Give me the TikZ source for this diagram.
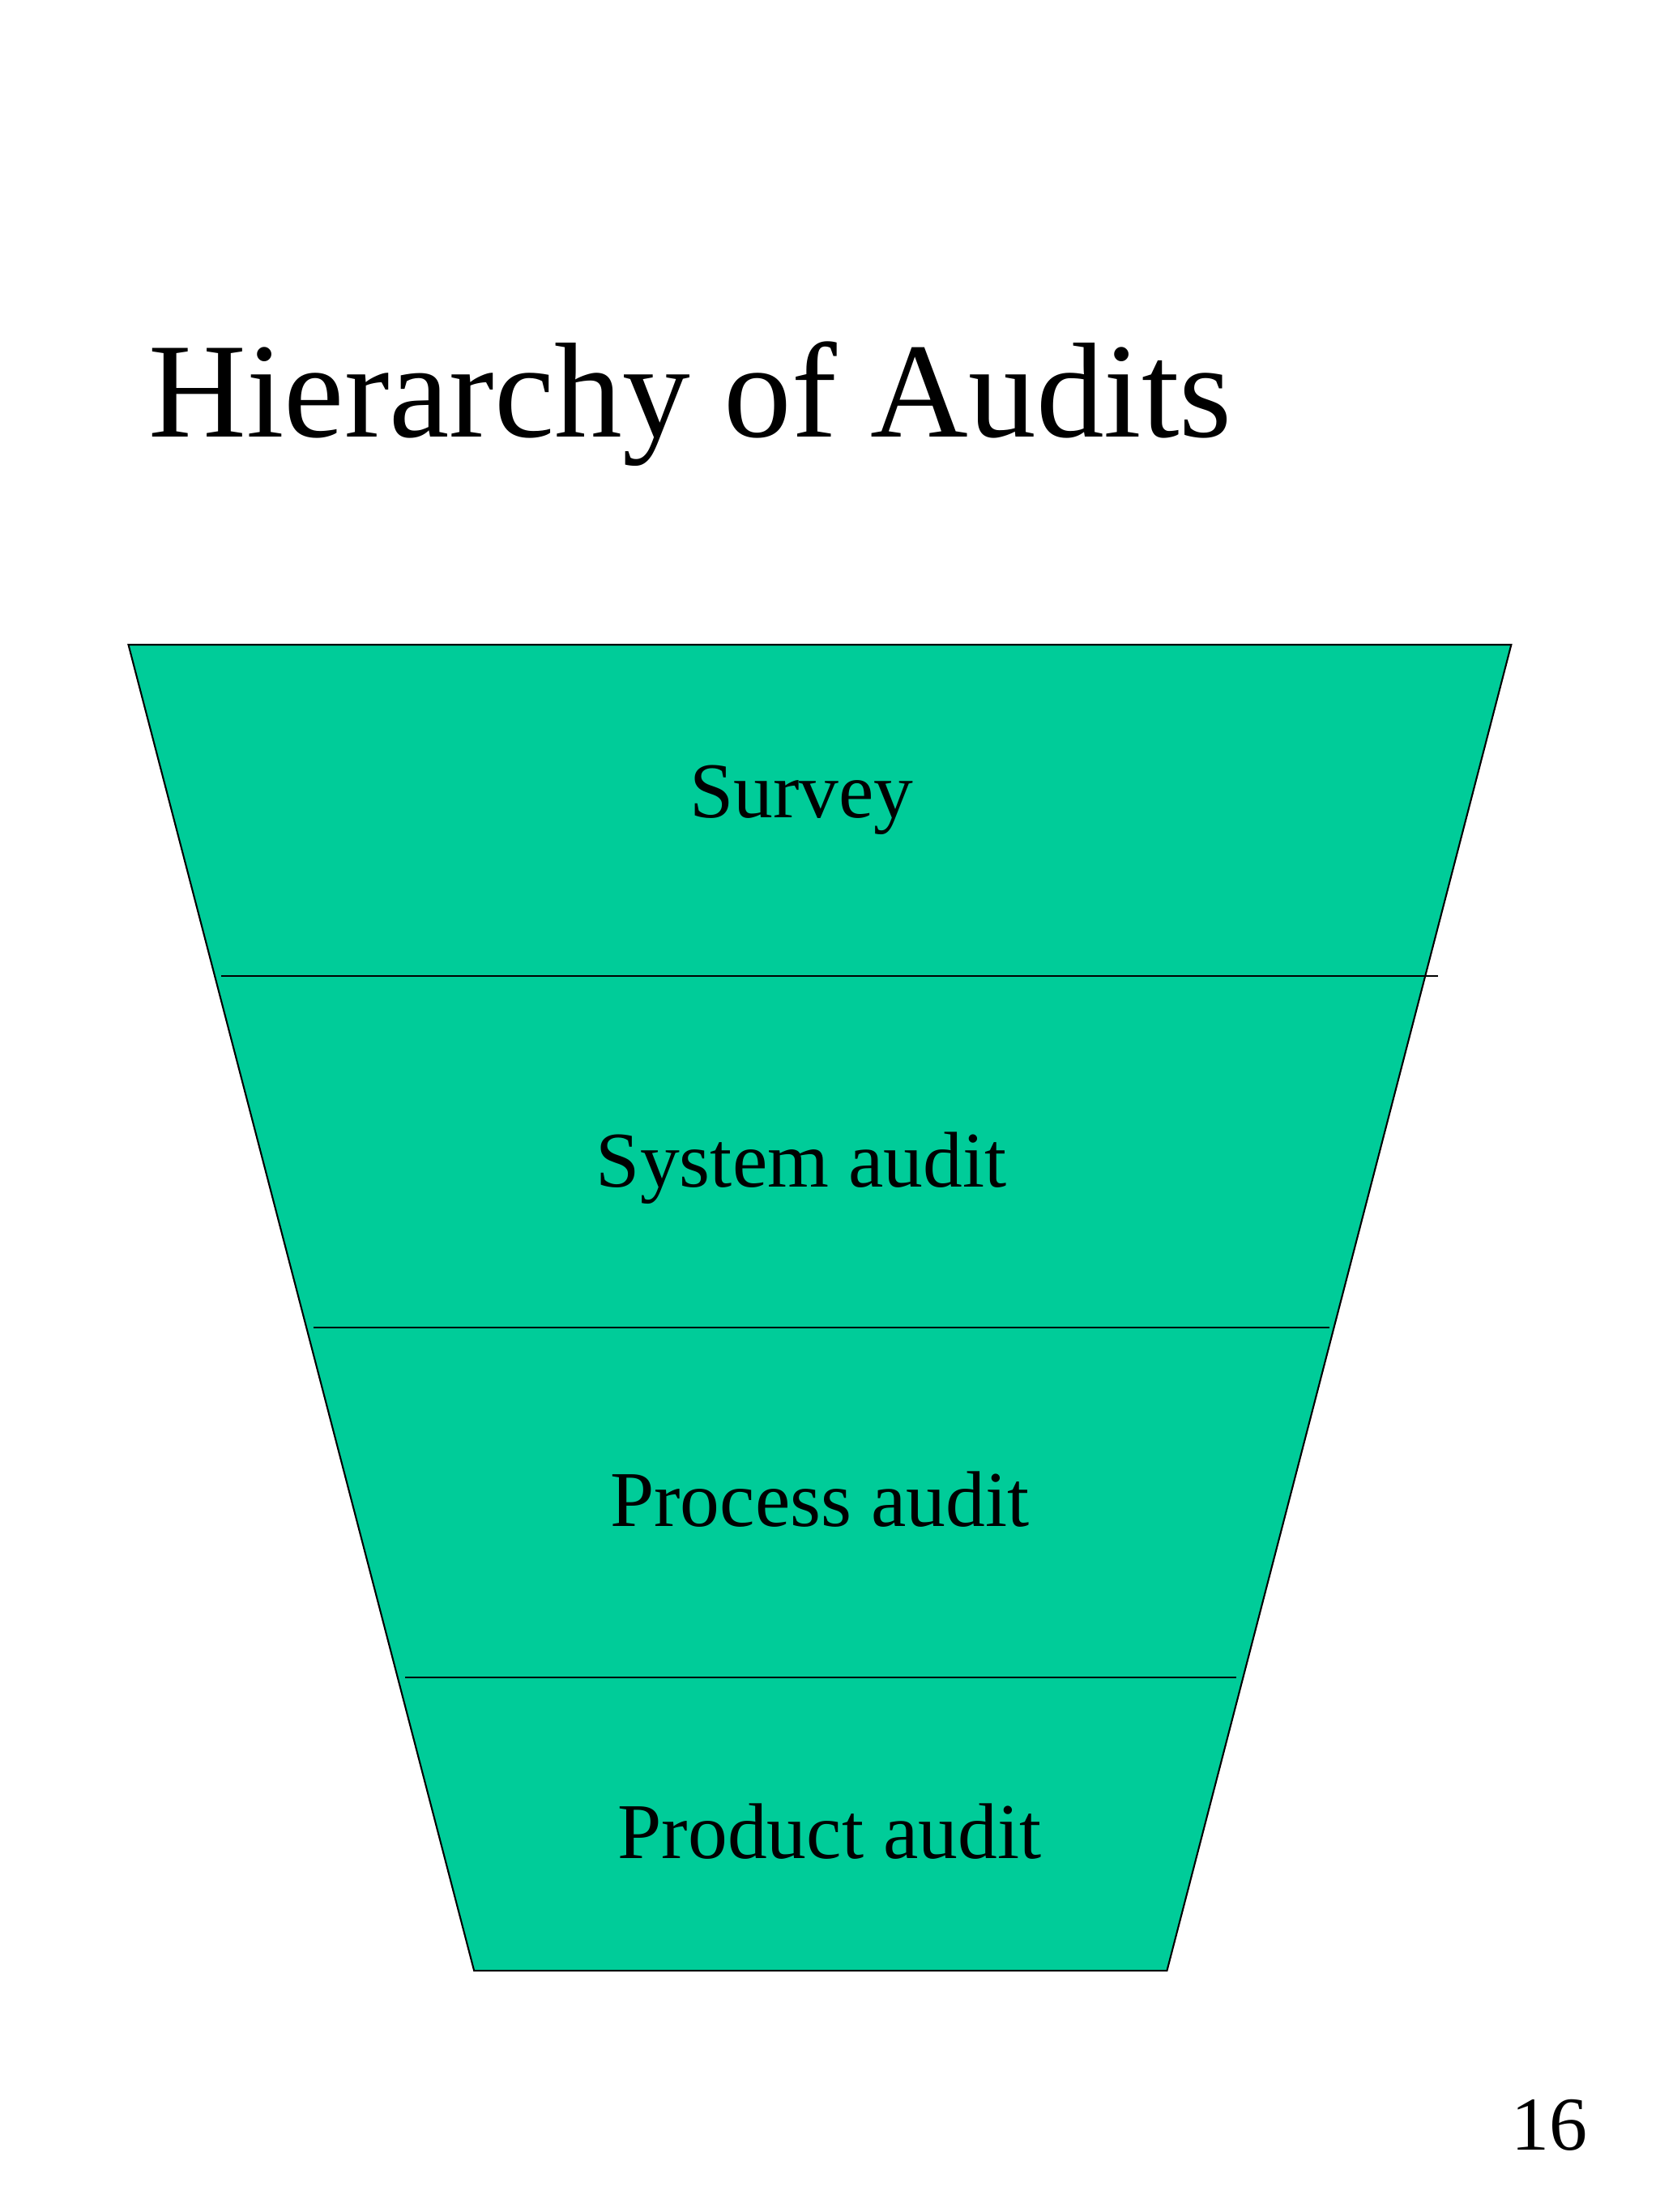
\documentclass[tikz,border=0pt]{standalone}
\usepackage{fontspec}
\setmainfont{Liberation Serif}
\definecolor{fun}{HTML}{00CC99}
\begin{document}
\begin{tikzpicture}[x=0.5pt,y=-0.5pt,
  lbl/.style={font=\fontsize{28}{34}\selectfont},
  sep/.style={draw=black,line width=0.6pt}]
\useasboundingbox (0,0) rectangle (1176,1568);
\node[anchor=base west,inner sep=0,font=\fontsize{48}{56}\selectfont] (title) at (105,310) {Hierarchy of Audits};
\draw[fill=fun,line width=0.6pt] (91,457) coordinate (tl) -- (1071,457) coordinate (tr) -- (827,1397) coordinate (br) -- (336,1397) coordinate (bl) -- cycle;
\coordinate (a1) at (157,692); \coordinate (b1) at (1019,692);
\coordinate (a2) at (222,941); \coordinate (b2) at (942,941);
\coordinate (a3) at (287,1189); \coordinate (b3) at (876,1189);
\draw[sep] (a1) -- (b1);
\draw[sep] (a2) -- (b2);
\draw[sep] (a3) -- (b3);
\node[lbl] (s1) at (568,567) {Survey};
\node[lbl] (s2) at (568,828) {System audit};
\node[lbl] (s3) at (581,1063) {Process audit};
\node[lbl] (s4) at (588,1298) {Product audit};
\node[anchor=base,inner sep=0,font=\fontsize{27}{32}\selectfont] (pg) at (1098,1524) {16};
\end{tikzpicture}
\end{document}
